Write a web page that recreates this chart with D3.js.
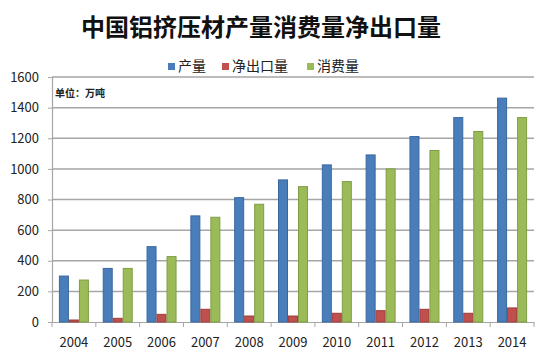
<!DOCTYPE html>
<html>
<head>
<meta charset="utf-8">
<script src="https://cdn.jsdelivr.net/npm/d3@7"></script>
<style>
  body { margin: 0; background: #fff; }
  text { font-family: "Noto Sans CJK SC", "DejaVu Sans", sans-serif; }
</style>
</head>
<body>
<div id="chart"></div>
<script>
// data (万吨)
const years = ["2004", "2005", "2006", "2007", "2008", "2009", "2010", "2011", "2012", "2013", "2014"];
const output = [300, 350, 492, 693, 812, 928, 1026, 1091, 1211, 1335, 1462];
const netExport = [13, 24, 50, 83, 39, 39, 57, 74, 83, 57, 92];
const consumption = [274, 350, 427, 684, 769, 884, 917, 1000, 1120, 1244, 1335];
const seriesNames = ["产量", "净出口量", "消费量"];
const yTicks = [0, 200, 400, 600, 800, 1000, 1200, 1400, 1600];

const colors = ["#4a7ebb", "#c0504d", "#9bbb59"];
const strokes = ["#3a67a0", "#a03c3a", "#7f9d45"];

let W = 550, H = 362;
let margin = { top: 77, right: 16, bottom: 40, left: 52 },
  width = W - margin.left - margin.right,
  height = H - margin.top - margin.bottom;

let svg = d3.select("#chart").append("svg")
  .attr("width", W).attr("height", H);

// title
svg.append("text")
  .attr("x", 261).attr("y", 36)
  .attr("text-anchor", "middle")
  .attr("font-size", 24).attr("font-weight", "bold")
  .attr("fill", "#111")
  .text("中国铝挤压材产量消费量净出口量");

let g = svg.append("g")
  .attr("transform", "translate(" + margin.left + "," + margin.top + ")");

let x = d3.scaleBand().domain(years).range([0, width]);
let y = d3.scaleLinear().domain([0, 1600]).range([height, 0]);

// gridlines
g.append("g").selectAll("line")
  .data(yTicks.filter(d => d > 0))
  .enter().append("line")
  .attr("x1", 0).attr("x2", width)
  .attr("y1", d => y(d)).attr("y2", d => y(d))
  .attr("stroke", "#a6a6a6").attr("stroke-width", 1.5);

// y axis
let yAxis = g.append("g")
  .call(d3.axisLeft(y).tickValues(yTicks).tickFormat(d3.format("d")).tickSize(4).tickPadding(9));
yAxis.select(".domain").attr("stroke", "#a6a6a6").attr("stroke-width", 1.2);
yAxis.selectAll(".tick line").attr("stroke", "#a6a6a6");
yAxis.selectAll("text").attr("font-size", 13).attr("fill", "#222")
  .attr("font-family", "'DejaVu Sans', sans-serif");

// x axis
let xAxis = g.append("g")
  .attr("transform", "translate(0," + height + ")")
  .call(d3.axisBottom(x).tickSize(0).tickPadding(16));
xAxis.select(".domain").attr("stroke", "#a6a6a6").attr("stroke-width", 1.2);
xAxis.selectAll("text").attr("font-size", 13).attr("fill", "#222")
  .attr("font-family", "'DejaVu Sans', sans-serif");
// tick marks between categories
xAxis.append("g").selectAll("line")
  .data(years.map((d, i) => i).concat([years.length]))
  .enter().append("line")
  .attr("x1", i => i * x.step()).attr("x2", i => i * x.step())
  .attr("y1", 0).attr("y2", 5)
  .attr("stroke", "#a6a6a6");

// bars
let inner = d3.scaleBand().domain([0, 1, 2])
  .range([(x.bandwidth() - 30) / 2, (x.bandwidth() + 30) / 2]);
let series = [output, netExport, consumption];

series.forEach((vals, s) => {
  g.append("g").selectAll("rect")
    .data(vals)
    .enter().append("rect")
    .attr("x", (d, i) => x(years[i]) + inner(s) + 0.5)
    .attr("width", inner.bandwidth() - 1)
    .attr("y", d => y(d))
    .attr("height", d => height - y(d))
    .attr("fill", colors[s])
    .attr("stroke", strokes[s]).attr("stroke-width", 1);
});

// unit note
svg.append("text")
  .attr("x", 55).attr("y", 97)
  .attr("font-size", 10).attr("font-weight", "bold").attr("fill", "#222")
  .text("单位：万吨");

// legend
let legendX = [168, 222, 307];
let legend = svg.append("g");
seriesNames.forEach((name, i) => {
  legend.append("rect")
    .attr("x", legendX[i]).attr("y", 63)
    .attr("width", 7).attr("height", 7)
    .attr("fill", colors[i]);
  legend.append("text")
    .attr("x", legendX[i] + 10).attr("y", 71)
    .attr("font-size", 14).attr("fill", "#222")
    .text(name);
});
</script>
</body>
</html>
